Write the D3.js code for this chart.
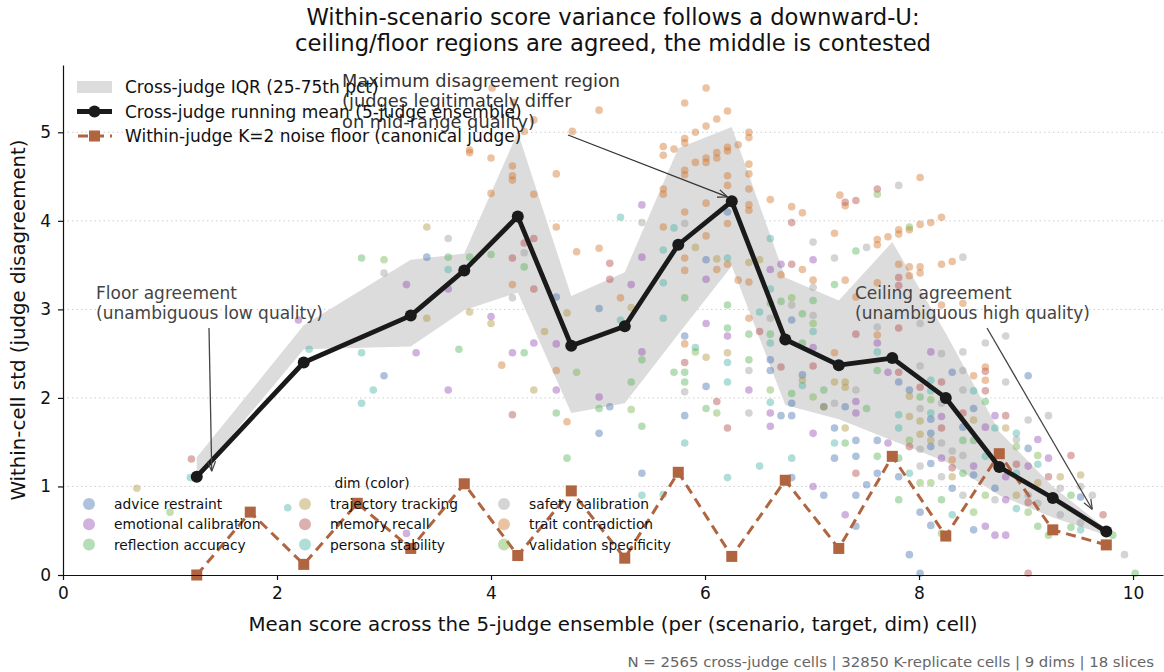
<!DOCTYPE html>
<html>
<head>
<meta charset="utf-8">
<script src="https://cdn.jsdelivr.net/npm/d3@7"></script>
<style>
  body { margin: 0; background: #fff; }
  svg { font-family: "DejaVu Sans", sans-serif; }
</style>
</head>
<body>
<svg id="chart" width="1164" height="672"></svg>
<script>
// bins of the running mean / IQR band
const bins    = [1.25, 2.25, 3.25, 3.75, 4.25, 4.75, 5.25, 5.75, 6.25, 6.75, 7.25, 7.75, 8.25, 8.75, 9.25, 9.75];
const meanStd = [1.11, 2.40, 2.93, 3.44, 4.05, 2.59, 2.81, 3.73, 4.22, 2.66, 2.37, 2.45, 2.00, 1.22, 0.87, 0.49];
const iqrLo   = [1.10, 2.55, 2.58, 2.99, 3.19, 1.83, 1.94, 2.72, 3.49, 1.92, 1.76, 1.52, 1.28, 0.90, 0.65, 0.45];
const iqrHi   = [1.33, 2.82, 3.56, 3.63, 5.00, 3.15, 3.42, 4.82, 5.06, 3.36, 3.10, 3.76, 2.73, 1.62, 1.00, 0.52];

// within-judge K=2 noise floor
const noiseBins = [1.25, 1.75, 2.25, 2.75, 3.25, 3.75, 4.25, 4.75, 5.25, 5.75, 6.25, 6.75, 7.25, 7.75, 8.25, 8.75, 9.25, 9.75];
const noiseStd  = [0.00, 0.71, 0.12, 0.81, 0.30, 1.03, 0.22, 0.95, 0.19, 1.16, 0.21, 1.07, 0.30, 1.34, 0.44, 1.37, 0.51, 0.34];

const dims = ["advice restraint", "emotional calibration", "reflection accuracy",
              "trajectory tracking", "memory recall", "persona stability",
              "safety calibration", "trait contradiction", "validation specificity"];
const dimColors = ["#3f6dad", "#9145ad", "#51b151", "#ad9139", "#b14141", "#41b1a1", "#999999", "#d17121", "#71b141"];

// scatter cells, one list per dim: [mean score, std]
const ptsAdvice = [[3.40,3.59],[3.00,2.25],[4.61,3.14],[5.01,3.01],[5.01,1.60],[5.11,1.90],[5.41,1.15],[5.81,2.70],[5.81,1.80],[6.01,3.56],
  [6.01,2.13],[6.21,4.10],[6.61,2.43],[6.61,2.31],[6.71,1.80],[6.81,2.88],[6.81,1.94],[6.81,1.80],[6.81,1.10],[6.91,2.26],[7.11,1.90],
  [7.21,1.66],[7.21,1.32],[7.11,0.90],[7.31,1.90],[7.41,1.52],[7.41,1.34],[7.41,0.90],[7.41,0.55],[7.51,1.02],[7.61,1.52],[7.61,1.15],
  [7.81,2.18],[7.81,1.11],[7.91,2.09],[7.91,0.23],[8.01,0.71],[8.01,0.02],[8.11,1.76],[8.11,1.60],[8.11,1.45],[8.11,1.26],[8.11,0.56],
  [8.31,2.29],[8.31,0.98],[8.41,1.67],[8.51,1.88],[8.51,1.13],[8.51,0.51],[8.71,0.98],[9.02,2.25],[9.02,1.43],[9.51,0.88]];
const ptsEmotional = [[2.20,2.88],[3.21,3.28],[3.60,3.23],[4.00,2.92],[3.30,2.51],[3.60,2.09],[4.20,2.51],[4.61,2.09],[4.40,2.62],[4.61,2.61],
  [5.01,2.01],[3.21,0.47],[5.41,4.18],[5.41,3.59],[5.31,3.28],[5.41,2.52],[6.01,3.34],[6.01,2.84],[6.21,2.70],[6.41,2.09],[6.61,3.45],
  [6.61,1.83],[6.61,1.68],[6.71,3.51],[7.01,3.56],[7.01,2.57],[7.01,1.60],[7.01,1.00],[7.31,0.68],[7.41,1.96],[7.41,1.83],[7.61,2.62],
  [7.71,2.29],[7.71,1.49],[8.11,2.52],[8.21,1.79],[8.21,1.32],[8.51,1.23],[8.62,1.67],[8.62,0.55],[8.71,1.80],[8.71,0.45],[8.81,1.11],
  [8.81,0.85],[8.81,0.45],[9.11,1.53],[9.21,1.32],[9.02,1.23]];
const ptsReflection = [[2.79,3.58],[3.60,3.59],[3.80,3.59],[4.00,3.62],[3.70,2.55],[4.31,2.51],[4.61,1.83],[4.71,1.32],[4.31,3.48],[5.01,1.88],
  [5.31,2.18],[5.41,2.43],[5.41,1.68],[5.81,3.13],[5.71,2.29],[5.81,2.29],[5.81,2.18],[6.01,1.88],[6.21,3.05],[6.21,2.79],[6.41,2.72],
  [6.41,2.43],[6.61,3.07],[6.61,2.72],[6.71,3.09],[6.81,2.05],[6.91,2.95],[6.91,2.62],[7.01,3.10],[7.21,3.28],[7.41,3.66],[7.61,2.31],
  [7.11,2.09],[7.31,1.49],[7.61,1.34],[7.81,1.32],[7.81,0.85],[8.01,2.01],[8.21,0.85],[8.41,1.52],[8.41,1.15],[8.51,1.52],[8.62,1.96],
  [9.42,0.90],[9.42,0.54],[9.11,0.55],[9.81,0.45],[10.02,0.02],[7.51,1.88]];
const ptsTrajectory = [[0.69,0.98],[3.40,3.93],[3.40,2.90],[3.80,2.97],[4.00,2.84],[4.40,2.09],[4.50,2.75],[4.71,2.96],[5.91,3.70],[6.11,3.57],
  [6.41,3.53],[6.51,3.56],[5.31,3.02],[6.01,2.46],[6.21,2.51],[6.91,2.20],[7.21,2.18],[7.31,2.18],[7.31,2.12],[7.31,1.66],[7.11,1.90],
  [7.91,2.02],[8.01,1.74],[8.01,1.59],[8.11,1.52],[8.31,1.11],[8.51,1.75],[8.81,1.66],[7.91,1.79],[9.11,1.04],[8.91,0.90],[9.32,1.11],[9.51,1.13]];
const ptsMemory = [[1.20,1.31],[4.40,3.80],[4.31,3.75],[4.20,3.58],[4.40,3.23],[4.20,1.81],[5.11,3.52],[5.11,3.34],[5.81,2.40],[6.11,1.96],
  [6.21,1.66],[6.51,2.75],[6.71,2.35],[6.81,3.98],[6.81,3.51],[7.01,2.36],[7.41,4.23],[7.31,4.21],[7.61,4.36],[7.81,3.36],[7.81,3.27],
  [7.41,2.72],[7.41,1.15],[7.81,2.79],[7.81,2.29],[7.91,1.45],[8.01,2.12],[8.21,2.18],[8.21,1.66],[8.31,1.21],[8.41,1.83],[8.62,2.08],
  [8.62,2.30],[8.81,1.80],[8.91,1.25],[9.02,0.82],[9.02,0.02],[9.21,1.11],[9.42,1.35],[9.72,0.68]];
const ptsPersona = [[1.19,1.10],[2.10,0.76],[2.30,2.55],[2.79,2.51],[2.79,1.94],[2.90,2.09],[3.60,3.45],[5.21,4.04],[5.71,3.92],[5.61,3.67],
  [6.21,3.58],[5.61,3.30],[5.21,2.88],[5.61,2.90],[5.91,2.57],[6.21,2.40],[6.21,2.18],[6.21,1.10],[5.81,1.49],[6.51,2.97],[6.51,1.23],
  [6.61,3.80],[6.61,3.23],[6.61,2.62],[6.61,1.95],[6.81,1.32],[6.91,2.14],[7.01,2.75],[7.21,1.49],[7.61,2.52],[7.81,1.81],[7.81,1.66],
  [7.91,1.15],[8.11,2.20],[8.11,2.08],[8.11,1.83],[8.31,0.68],[8.51,2.08],[8.62,1.34],[8.71,1.66],[8.91,1.60],[8.91,1.15],[8.91,0.75],
  [9.11,1.25],[9.51,0.51],[5.61,0.91],[5.41,0.90]];
const ptsSafety = [[3.00,3.41],[3.60,3.80],[4.31,3.64],[4.20,3.13],[5.41,3.98],[5.81,3.97],[5.81,2.07],[6.41,2.31],[6.41,1.83],[6.61,2.90],
  [6.81,3.05],[7.01,3.76],[7.01,3.25],[7.01,2.93],[7.21,3.58],[7.21,1.94],[7.41,2.09],[7.51,3.70],[7.61,2.80],[7.81,4.40],[8.01,2.84],
  [8.01,2.36],[8.01,1.88],[8.01,1.42],[8.01,1.23],[8.21,2.50],[8.21,1.94],[8.21,1.49],[8.21,1.11],[8.31,1.40],[8.41,3.59],[8.41,2.52],
  [8.41,2.31],[8.41,2.09],[8.41,1.35],[8.41,0.90],[8.62,2.62],[8.81,2.70],[8.81,2.18],[9.21,1.80],[9.02,1.75],[8.91,1.53],[9.51,1.00],
  [9.62,0.90],[9.32,0.98],[9.02,0.90],[8.71,0.85],[9.11,0.81],[9.32,0.68],[9.51,0.59],[9.92,0.23]];
const ptsTrait = [[3.80,4.80],[4.00,4.71],[4.00,4.31],[4.20,4.62],[4.20,4.51],[4.20,4.46],[4.40,4.30],[4.61,4.53],[4.61,3.93],[4.20,3.28],
  [4.10,2.37],[4.61,2.31],[4.71,1.73],[4.40,5.14],[4.31,5.01],[4.01,5.50],[4.21,5.34],[3.80,4.77],[4.76,5.01],[5.01,5.25],[4.80,3.65],
  [5.01,3.69],[5.21,3.13],[6.01,5.50],[5.81,5.33],[6.21,5.24],[6.11,5.15],[6.01,5.07],[5.91,5.00],[5.81,4.93],[5.81,4.88],[5.61,4.84],
  [5.61,4.74],[5.71,4.81],[6.01,4.71],[6.01,4.66],[5.91,4.66],[6.11,4.77],[6.11,4.71],[6.21,4.83],[6.21,4.79],[6.31,4.86],[6.41,5.00],
  [6.41,4.94],[5.81,4.57],[5.81,4.52],[6.21,4.51],[6.21,4.40],[6.41,4.64],[6.41,4.53],[6.41,4.36],[5.61,4.36],[5.61,4.30],[5.81,4.10],
  [6.01,4.20],[5.61,3.93],[6.21,3.97],[6.41,4.18],[6.41,4.12],[6.61,4.24],[6.81,4.16],[6.91,4.09],[6.01,3.83],[5.81,3.58],[5.81,3.44],
  [6.11,3.45],[6.21,3.51],[6.31,3.33],[6.41,3.31],[5.81,2.61],[6.41,2.90],[6.71,3.39],[6.91,3.45],[7.01,3.33],[8.01,4.49],[7.31,4.17],
  [7.26,4.29],[8.21,4.04],[8.11,3.98],[8.01,3.96],[7.91,3.90],[7.81,3.90],[7.81,3.85],[7.71,3.82],[7.61,3.79],[7.61,3.73],[7.21,3.86],
  [8.31,3.54],[8.21,3.51],[8.01,3.48],[8.01,3.41],[7.91,3.48],[7.91,3.38],[7.81,3.51],[7.61,3.30],[7.31,3.33],[8.41,3.07],[8.21,3.05],
  [7.61,2.71],[7.21,2.51],[7.41,3.14],[8.51,2.25],[8.62,2.20],[8.62,2.35],[8.31,1.30]];
const ptsValidation = [[1.00,0.71],[3.00,3.56],[4.80,2.29],[5.31,1.87],[5.91,2.52],[6.11,1.83],[6.61,2.09],[6.81,3.13],[7.01,2.84],[7.01,2.01],
  [7.61,4.30],[7.91,3.93],[8.01,1.04],[8.11,1.98],[8.11,1.04],[8.21,0.47],[8.51,0.71],[8.62,0.90],[9.02,0.71],[9.11,1.35],[9.21,0.45],
  [8.91,1.45],[7.91,1.52]];
const dimPoints = [ptsAdvice, ptsEmotional, ptsReflection, ptsTrajectory, ptsMemory, ptsPersona, ptsSafety, ptsTrait, ptsValidation];

const xTicks = [0, 2, 4, 6, 8, 10];
const yTicks = [0, 1, 2, 3, 4, 5];

const svg = d3.select("#chart");
const margin = {top: 65, right: 1, bottom: 97, left: 63};
const W = 1164, H = 672;

const x = d3.scaleLinear().domain([0, 10.28]).range([margin.left, W - margin.right]);
const y = d3.scaleLinear().domain([0, 5.76]).range([H - margin.bottom, margin.top]);

const noiseColor = "#b0643f";
const dotAlpha = 0.42;

// horizontal dotted grid
svg.append("g").selectAll("line")
    .data(yTicks.slice(1))
    .enter().append("line")
    .attr("x1", x(0)).attr("x2", x(10.28))
    .attr("y1", d => y(d)).attr("y2", d => y(d))
    .attr("stroke", "#cfcfcf").attr("stroke-width", 1)
    .attr("stroke-dasharray", "1.5,3");

// IQR band
let band = bins.map((b, i) => ({x: b, lo: iqrLo[i], hi: iqrHi[i]}));
svg.append("path")
    .datum(band)
    .attr("fill", "#dcdcdc")
    .attr("d", d3.area().x(d => x(d.x)).y0(d => y(d.lo)).y1(d => y(d.hi)));

// scatter of cells
dimPoints.forEach((pts, k) => {
    svg.append("g").selectAll("circle")
        .data(pts)
        .enter().append("circle")
        .attr("cx", d => x(d[0]))
        .attr("cy", d => y(d[1]))
        .attr("r", 3.8)
        .attr("fill", dimColors[k])
        .attr("fill-opacity", dotAlpha);
});

// noise floor (dashed, squares)
let noise = noiseBins.map((b, i) => ({x: b, y: noiseStd[i]}));
svg.append("path")
    .datum(noise)
    .attr("fill", "none")
    .attr("stroke", noiseColor)
    .attr("stroke-width", 3)
    .attr("stroke-dasharray", "10,6")
    .attr("d", d3.line().x(d => x(d.x)).y(d => y(d.y)));
svg.append("g").selectAll("rect")
    .data(noise)
    .enter().append("rect")
    .attr("x", d => x(d.x) - 5.5).attr("y", d => y(d.y) - 5.5)
    .attr("width", 11).attr("height", 11)
    .attr("fill", noiseColor);

// running mean
let mean = bins.map((b, i) => ({x: b, y: meanStd[i]}));
svg.append("path")
    .datum(mean)
    .attr("fill", "none")
    .attr("stroke", "#1a1a1a")
    .attr("stroke-width", 4.8)
    .attr("stroke-linejoin", "round")
    .attr("d", d3.line().x(d => x(d.x)).y(d => y(d.y)));
svg.append("g").selectAll("circle")
    .data(mean)
    .enter().append("circle")
    .attr("cx", d => x(d.x)).attr("cy", d => y(d.y))
    .attr("r", 6)
    .attr("fill", "#1a1a1a");

// axes
let xAxis = svg.append("g")
    .attr("transform", "translate(0," + y(0) + ")")
    .call(d3.axisBottom(x).tickValues(xTicks).tickFormat(d3.format("d")).tickSize(5).tickSizeOuter(0).tickPadding(7));
let yAxis = svg.append("g")
    .attr("transform", "translate(" + x(0) + ",0)")
    .call(d3.axisLeft(y).tickValues(yTicks).tickFormat(d3.format("d")).tickSize(5).tickSizeOuter(0).tickPadding(7));
[xAxis, yAxis].forEach(a => {
    a.selectAll("text").attr("font-size", 17).attr("fill", "#111").attr("font-family", "DejaVu Sans");
    a.select(".domain").attr("stroke", "#111").attr("stroke-width", 1.2);
    a.selectAll(".tick line").attr("stroke", "#111").attr("stroke-width", 1.2);
});

svg.append("text")
    .attr("x", (x(0) + x(10.28)) / 2).attr("y", 631)
    .attr("text-anchor", "middle").attr("font-size", 19.8).attr("fill", "#111")
    .text("Mean score across the 5-judge ensemble (per (scenario, target, dim) cell)");
svg.append("text")
    .attr("transform", "translate(25," + ((y(0) + y(5.76)) / 2) + ") rotate(-90)")
    .attr("text-anchor", "middle").attr("font-size", 19.8).attr("fill", "#111")
    .text("Within-cell std (judge disagreement)");

// title
let title = svg.append("text").attr("text-anchor", "middle").attr("font-size", 22.7).attr("fill", "#111");
title.append("tspan").attr("x", 613).attr("y", 25).text("Within-scenario score variance follows a downward-U:");
title.append("tspan").attr("x", 613).attr("y", 51).text("ceiling/floor regions are agreed, the middle is contested");

// annotations
svg.append("defs").append("marker")
    .attr("id", "arrowhead")
    .attr("viewBox", "0 0 10 10").attr("refX", 10).attr("refY", 5)
    .attr("markerWidth", 10).attr("markerHeight", 10)
    .attr("markerUnits", "userSpaceOnUse")
    .attr("orient", "auto")
    .append("path").attr("d", "M0,1 L10,5 L0,9")
    .attr("fill", "none").attr("stroke", "context-stroke").attr("stroke-width", 1.2);

function annotate(lines, tx, ty, size, gap, from, to, color) {
    let t = svg.append("text").attr("font-size", size).attr("fill", color);
    lines.forEach((l, i) => t.append("tspan").attr("x", tx).attr("y", ty + i * gap).text(l));
    svg.append("line")
        .attr("x1", from[0]).attr("y1", from[1])
        .attr("x2", to[0]).attr("y2", to[1])
        .attr("stroke", color).attr("stroke-width", 1.3)
        .attr("marker-end", "url(#arrowhead)");
}
annotate(["Floor agreement", "(unambiguous low quality)"], 96, 299, 17, 19.5,
    [209, 328], [x(1.39), y(1.17)], "#444");
annotate(["Maximum disagreement region", "(judges legitimately differ", "on mid-range quality)"], 342, 87, 17.8, 20.3,
    [568, 135], [x(6.21), y(4.27)], "#333");
annotate(["Ceiling agreement", "(unambiguous high quality)"], 855, 299, 17, 19.5,
    [987, 328], [x(9.62), y(0.74)], "#444");

// series legend (upper left)
let leg = svg.append("g").attr("font-size", 17).attr("fill", "#111");
let rows = [
    {label: "Cross-judge IQR (25-75th pct)", kind: "band"},
    {label: "Cross-judge running mean (5-judge ensemble)", kind: "mean"},
    {label: "Within-judge K=2 noise floor (canonical judge)", kind: "noise"}
];
rows.forEach((r, i) => {
    let cy = 87 + i * 24.5;
    let g = leg.append("g");
    if (r.kind === "band") {
        g.append("rect").attr("x", 77).attr("y", cy - 6).attr("width", 35).attr("height", 12).attr("fill", "#dcdcdc");
    } else if (r.kind === "mean") {
        g.append("line").attr("x1", 77).attr("x2", 112).attr("y1", cy).attr("y2", cy)
            .attr("stroke", "#1a1a1a").attr("stroke-width", 4.8);
        g.append("circle").attr("cx", 94.5).attr("cy", cy).attr("r", 6).attr("fill", "#1a1a1a");
    } else {
        g.append("line").attr("x1", 77).attr("x2", 112).attr("y1", cy).attr("y2", cy)
            .attr("stroke", noiseColor).attr("stroke-width", 3).attr("stroke-dasharray", "10,6")
            .attr("stroke-dashoffset", -1);
        g.append("rect").attr("x", 89).attr("y", cy - 5.5).attr("width", 11).attr("height", 11).attr("fill", noiseColor);
    }
    g.append("text").attr("x", 125).attr("y", cy + 6).text(r.label);
});

// dim legend
let dimLeg = svg.append("g").attr("font-size", 13.8).attr("fill", "#111");
dimLeg.append("text").attr("x", 372).attr("y", 488).attr("text-anchor", "middle").text("dim (color)");
let colX = [89, 305, 504];
dims.forEach((d, i) => {
    let c = Math.floor(i / 3), r = i % 3;
    let cy = 504 + r * 20.3;
    dimLeg.append("circle").attr("cx", colX[c]).attr("cy", cy).attr("r", 6)
        .attr("fill", dimColors[i]).attr("fill-opacity", dotAlpha);
    dimLeg.append("text").attr("x", colX[c] + 25).attr("y", cy + 5).text(d);
});

// footer
svg.append("text")
    .attr("x", 1154).attr("y", 667)
    .attr("text-anchor", "end").attr("font-size", 14.9).attr("fill", "#666")
    .text("N = 2565 cross-judge cells | 32850 K-replicate cells | 9 dims | 18 slices");
</script>
</body>
</html>
